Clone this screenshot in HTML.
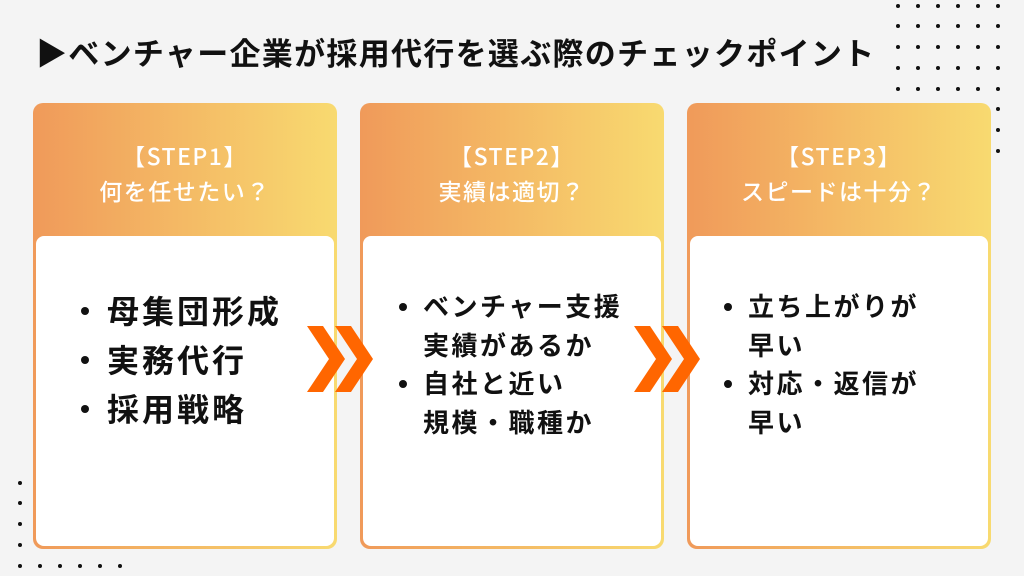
<!DOCTYPE html>
<html><head><meta charset="utf-8"><style>
body{margin:0;width:1024px;height:576px;background:#f4f4f4;position:relative;overflow:hidden;font-family:"Noto Sans CJK JP","Liberation Sans",sans-serif}
.t{position:absolute;left:36px;top:29px;font-size:31px;line-height:46px;font-weight:bold;color:#111;letter-spacing:1.3px;white-space:nowrap}
.card{position:absolute;top:103px;width:304px;height:446px;border-radius:10px;background:linear-gradient(90deg,#f09a5a,#f8da70);box-sizing:border-box}
.head{height:135px;color:#fff;font-size:23px;font-weight:500;text-align:center;padding-top:35px;box-sizing:border-box;line-height:35px;letter-spacing:1.5px}
.body{position:absolute;left:3px;right:3px;top:133px;bottom:3px;background:#fff;border-radius:8px}
ul{margin:0;padding:0;list-style:none;position:absolute;white-space:nowrap}
li{position:relative;font-weight:bold;color:#111}
li:before{content:"";position:absolute;width:8px;height:8px;border-radius:50%;background:#111}
.l1 li{font-size:32px;line-height:49px;padding-left:30px;letter-spacing:3px}
.l1 li:before{left:4px;top:21px}
.l2 li{font-size:26px;line-height:38.5px;padding-left:24px;letter-spacing:2.5px}
.l2 li:before{left:0px;top:16px}
.d{position:absolute;width:4px;height:4px;border-radius:50%;background:#111}
</style></head><body>
<div class="t">▶ベンチャー企業が採用代行を選ぶ際のチェックポイント</div>
<div class="card" style="left:33px"><div class="head">【STEP1】<br>何を任せたい？</div><div class="body">
<ul class="l1" style="left:41px;top:50px"><li>母集団形成</li><li>実務代行</li><li>採用戦略</li></ul></div></div>
<div class="card" style="left:360px"><div class="head">【STEP2】<br>実績は適切？</div><div class="body">
<ul class="l2" style="left:36px;top:51px"><li>ベンチャー支援<br>実績があるか</li><li>自社と近い<br>規模・職種か</li></ul></div></div>
<div class="card" style="left:687px"><div class="head">【STEP3】<br>スピードは十分？</div><div class="body">
<ul class="l2" style="left:34px;top:51px"><li>立ち上がりが<br>早い</li><li>対応・返信が<br>早い</li></ul></div></div>
<svg style="position:absolute;left:0;top:0" width="1024" height="576">
<g fill="#ff6600">
<polygon points="307,326 323,326 345,359 323,392 307,392 329,359"/>
<polygon points="335,326 351,326 373,359 351,392 335,392 357,359"/>
<polygon points="634,326 650,326 672,359 650,392 634,392 656,359"/>
<polygon points="662,326 678,326 700,359 678,392 662,392 684,359"/>
</g></svg>
<div id="dots"></div>
<script>
var h='';function d(x,y){h+='<div class="d" style="left:'+(x-2)+'px;top:'+(y-2)+'px"></div>';}
[6,26,47,68,89].forEach(function(y){for(var x=898;x<=998;x+=20)d(x,y);});
[109,130,151].forEach(function(y){d(998,y);});
[483,503,524,545].forEach(function(y){d(20,y);});
for(var x=20;x<=120;x+=20)d(x,566);
document.getElementById('dots').innerHTML=h;
</script>
</body></html>
